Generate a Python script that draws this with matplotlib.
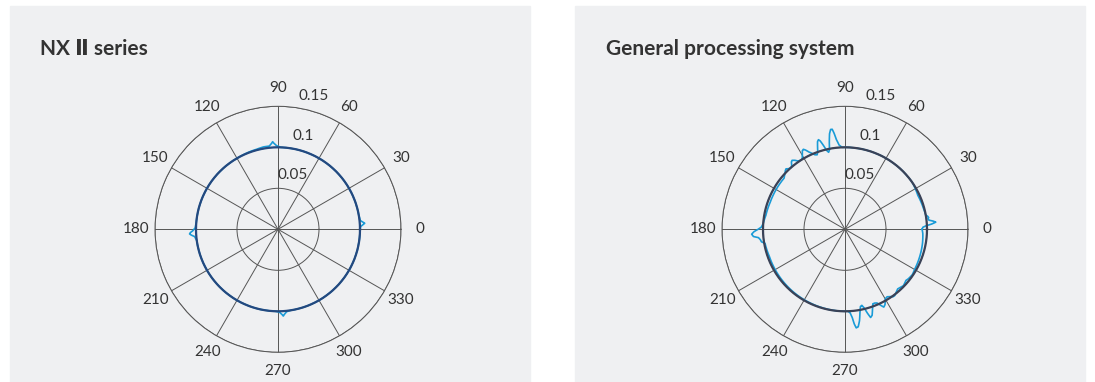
import numpy as np
import matplotlib
matplotlib.use('Agg')
import matplotlib.pyplot as plt
from matplotlib.patches import Rectangle

plt.rcParams['font.family'] = ['Lato', 'DejaVu Sans']

# roundness traces as (angle in deg, radius) samples
nx_samples = [
    (0, 0.100), (2, 0.101), (3.2, 0.104), (4, 0.106), (4.8, 0.104), (6, 0.101),
    (10, 0.100), (60, 0.100), (88, 0.100), (91, 0.102), (92.7, 0.105),
    (93.5, 0.107), (94.3, 0.105), (96, 0.102), (100, 0.102), (105, 0.101),
    (120, 0.100), (175, 0.100), (179, 0.101), (181, 0.104), (182.2, 0.107),
    (183, 0.108), (183.8, 0.106), (185, 0.102), (188, 0.100), (240, 0.100),
    (268, 0.100), (271, 0.101), (272.7, 0.104), (273.5, 0.106), (274.3, 0.104),
    (276, 0.101), (279, 0.100), (300, 0.100), (356, 0.100), (360, 0.100),
]
gp_samples = [
    (0, 0.094), (1.5, 0.095), (2.5, 0.099), (3.5, 0.106), (4.5, 0.111),
    (5.3, 0.108), (6.2, 0.103), (7.2, 0.102), (8, 0.103), (9, 0.102),
    (10, 0.100), (15, 0.099), (25, 0.098), (35, 0.100), (60, 0.100),
    (90, 0.100), (92, 0.100), (94, 0.103), (95.5, 0.110), (96.5, 0.118),
    (97.3, 0.123), (98.2, 0.123), (99.2, 0.118), (100.2, 0.108), (101, 0.099),
    (102, 0.096), (103.2, 0.099), (104.5, 0.106), (105.7, 0.112),
    (106.5, 0.114), (107.4, 0.112), (108.4, 0.106), (109.4, 0.100),
    (110.5, 0.097), (112, 0.098), (113.5, 0.101), (115, 0.104), (116.5, 0.108),
    (117.5, 0.110), (118.5, 0.109), (119.7, 0.105), (121, 0.101),
    (122.5, 0.100), (124.5, 0.101), (126, 0.104), (127.5, 0.106),
    (128.5, 0.105), (130, 0.101), (131.5, 0.100), (133, 0.101), (134.3, 0.103),
    (135.5, 0.102), (137, 0.100), (140, 0.097), (150, 0.097), (160, 0.097),
    (170, 0.098), (176, 0.100), (178.5, 0.102), (180, 0.106), (181.5, 0.111),
    (183, 0.114), (184.5, 0.112), (185.5, 0.106), (187, 0.104), (188.5, 0.103),
    (190, 0.099), (200, 0.098), (230, 0.099), (270, 0.100), (272, 0.100),
    (273.5, 0.102), (274.7, 0.108), (275.6, 0.116), (276.5, 0.121),
    (277.7, 0.120), (279, 0.113), (280.2, 0.103), (281.3, 0.096),
    (282.5, 0.095), (283.8, 0.099), (285, 0.106), (286.2, 0.112),
    (287.5, 0.110), (289, 0.103), (290.5, 0.097), (292, 0.097), (293.5, 0.098),
    (295, 0.102), (296.5, 0.106), (298, 0.104), (300, 0.098), (302, 0.097),
    (304, 0.099), (305.5, 0.101), (307, 0.101), (309, 0.099), (311.5, 0.097),
    (314, 0.098), (316, 0.099), (318, 0.098), (320, 0.097), (322, 0.098),
    (326, 0.099), (330, 0.098), (340, 0.097), (350, 0.096), (357, 0.095),
    (360, 0.094),
]

titles = ['NX \u2161 series', 'General processing system']
fit_radius = 0.1
r_ticks = [0.05, 0.1, 0.15]
r_tick_labels = ['0.05', '0.1', '0.15']
theta_ticks = list(range(0, 360, 30))

W, H = 1095, 382
fig = plt.figure(figsize=(W / 100, H / 100), dpi=100)
fig.patch.set_facecolor('white')

bg = '#eff0f2'
grid_c = '#555555'
txt_c = '#333333'

panels = [
    dict(x0=10, x1=530, cx=278, title_x=40, data=nx_samples, fit_c='#24497f'),
    dict(x0=575, x1=1085, cx=845, title_x=606, data=gp_samples, fit_c='#3a4257'),
]
cy = 229.3
R = 123

for p, title in zip(panels, titles):
    fig.patches.append(Rectangle((p['x0'] / W, 0), (p['x1'] - p['x0']) / W, 1 - 6 / H,
                                 transform=fig.transFigure, color=bg, zorder=-10))
    fig.text(p['title_x'] / W, 1 - 55 / H, title, fontsize=15, fontweight='bold',
             color=txt_c, ha='left', va='baseline')

    ax = fig.add_axes([(p['cx'] - R) / W, (H - cy - R) / H, 2 * R / W, 2 * R / H],
                      projection='polar')
    ax.set_facecolor('none')
    ax.set_ylim(0, 0.15)
    ax.set_yticks(r_ticks)
    ax.set_yticklabels([])
    ax.set_xticks(np.deg2rad(theta_ticks))
    ax.set_xticklabels([str(t) for t in theta_ticks], fontsize=11, color=txt_c)
    ax.tick_params(axis='x', pad=3)
    ax.grid(True, color=grid_c, lw=0.7)
    ax.spines['polar'].set_color(grid_c)
    ax.spines['polar'].set_linewidth(0.7)

    for rt, lab in zip(r_ticks, r_tick_labels):
        ax.text(np.deg2rad(75), rt + 0.0183, lab, fontsize=11, color=txt_c,
                ha='center', va='center', clip_on=False)

    ang, rad = np.array(p['data']).T
    trace, = ax.plot(np.deg2rad(ang), rad, color='#1a9bd7', lw=1.2,
                     solid_joinstyle='round', zorder=3)
    # follow the arc between samples instead of drawing chords
    trace.get_path()._interpolation_steps = 30
    circ = np.linspace(0, 2 * np.pi, 361)
    ax.plot(circ, np.full_like(circ, fit_radius), color=p['fit_c'], lw=1.6, zorder=4)

fig.savefig('out.png', dpi=100, facecolor='white')
